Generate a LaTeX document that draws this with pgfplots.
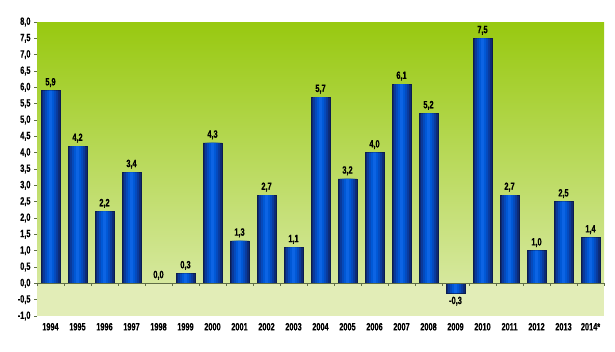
\documentclass[border=0pt]{standalone}
\usepackage{pgfplots}
\pgfplotsset{compat=1.18}
\usepackage{fontspec}
\setmainfont{Liberation Sans}[FakeStretch=0.7, BoldFeatures={FakeBold=0.6}]
\definecolor{bgtop}{RGB}{152,201,16}
\definecolor{bgmid}{RGB}{214,232,158}
\definecolor{bgbot}{RGB}{226,237,183}
\definecolor{bc1}{RGB}{14,42,115}
\definecolor{bc2}{RGB}{10,58,155}
\definecolor{bc3}{RGB}{5,74,188}
\definecolor{bc4}{RGB}{0,88,214}
\definecolor{bc5}{RGB}{12,100,228}
\definecolor{axisgray}{RGB}{95,110,70}
\pgfplotstableread{
x y
0 5.9
1 4.2
2 2.2
3 3.4
4 0.0
5 0.3
6 4.3
7 1.3
8 2.7
9 1.1
10 5.7
11 3.2
12 4.0
13 6.1
14 5.2
15 -0.3
16 7.5
17 2.7
18 1.0
19 2.5
20 1.4
}\gdp
\begin{document}
\begin{tikzpicture}
\begin{axis}[
  scale only axis, width=567pt, height=294pt,
  xmin=-0.5, xmax=20.5, ymin=-1, ymax=8,
  axis y line*=left, axis x line*=bottom,
  x axis line style={draw=none},
  y axis line style={axisgray, line width=0.8pt},
  xtick=data,
  xticklabels={1994,1995,1996,1997,1998,1999,2000,2001,2002,2003,2004,2005,2006,2007,2008,2009,2010,2011,2012,2013,2014*},
  xtick style={draw=none},
  ytick distance=0.5,
  ytick style={axisgray, line width=0.6pt},
  tick align=outside, major tick length=3pt,
  /pgf/number format/assume math mode=true,
  yticklabel style={/pgf/number format/.cd, fixed, fixed zerofill, precision=1, use comma},
  tick label style={font=\fontsize{10.5}{11}\selectfont\bfseries},
  xticklabel style={yshift=-0.5pt},
  ybar, bar shift=0pt,
  nodes near coords style={font=\fontsize{10.5}{11}\selectfont\bfseries, /pgf/number format/.cd, fixed, fixed zerofill, precision=1, use comma},
  clip=false,
]
\fill[top color=bgtop, bottom color=bgmid] (axis cs:-0.5,0) rectangle (axis cs:20.5,8);
\fill[bgbot] (axis cs:-0.5,-1) rectangle (axis cs:20.5,0);
\addplot[draw=bc1!70!black, line width=0.5pt, fill=bc1, bar width=19pt, nodes near coords] table[x=x,y=y] {\gdp};
\addplot[draw=none, fill=bc2, bar width=15pt] table[x=x,y=y] {\gdp};
\addplot[draw=none, fill=bc3, bar width=11pt] table[x=x,y=y] {\gdp};
\addplot[draw=none, fill=bc4, bar width=7pt] table[x=x,y=y] {\gdp};
\addplot[draw=none, fill=bc5, bar width=3pt] table[x=x,y=y] {\gdp};
\draw[axisgray, line width=0.8pt] (axis cs:-0.5,0) -- (axis cs:20.5,0);
\pgfplotsinvokeforeach{0,...,21}{
  \draw[axisgray, line width=0.6pt] (axis cs:#1-0.5,0) -- ([yshift=-3pt]axis cs:#1-0.5,0);
}
\end{axis}
\path[use as bounding box] (-37pt,-35pt) rectangle (578pt,316pt);
\end{tikzpicture}
\end{document}
